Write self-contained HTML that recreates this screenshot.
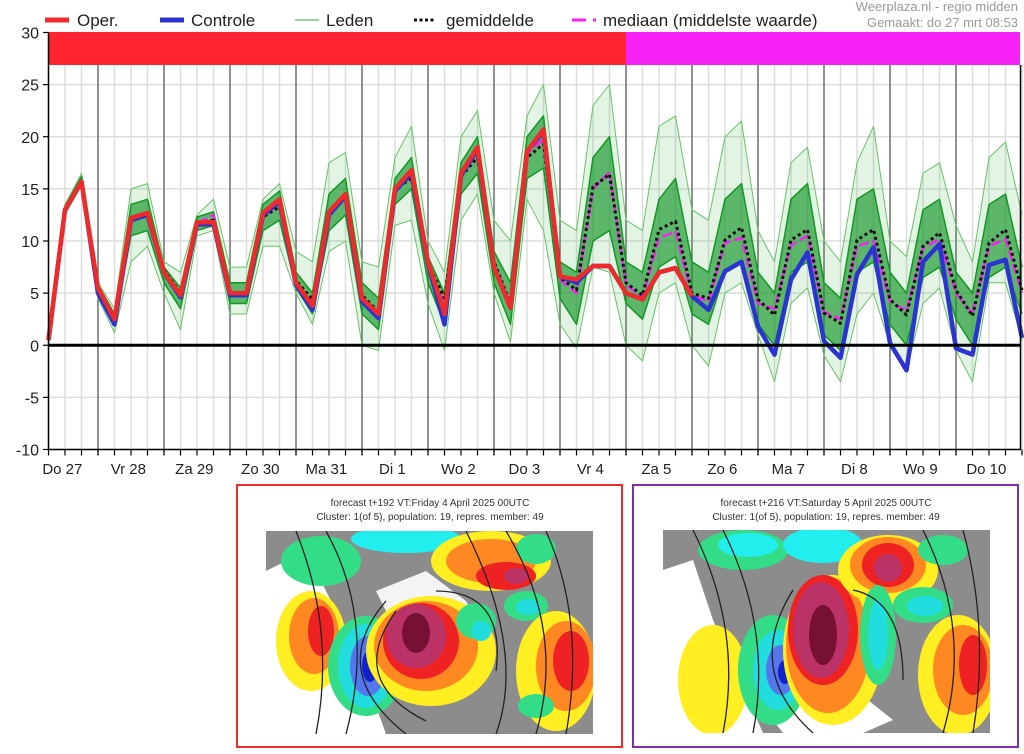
<!DOCTYPE html>
<html><head><meta charset="utf-8"><style>
html,body{margin:0;padding:0;background:#fff;}
svg{display:block;font-family:"Liberation Sans",Arial,sans-serif;}
</style></head><body>
<svg id="chart" width="1024" height="754" viewBox="0 0 1024 754" xmlns="http://www.w3.org/2000/svg">
<g id="grid"></g>
<g>
<rect x="48" y="32" width="578" height="33" fill="#ff2430"/>
<rect x="626" y="32" width="394" height="33" fill="#f622f6"/>
</g>
<g id="series"></g>
<g id="axes"></g>
<g font-size="17" fill="#222">
<g><line x1="45" y1="20" x2="69" y2="20" stroke="#ee2a2a" stroke-width="5"/><text x="77" y="26">Oper.</text></g>
<g><line x1="160" y1="20" x2="184" y2="20" stroke="#2b34d0" stroke-width="5"/><text x="191" y="26">Controle</text></g>
<g><line x1="295" y1="20" x2="319" y2="20" stroke="#33aa33" stroke-width="1"/><text x="326" y="26">Leden</text></g>
<g><line x1="414" y1="20" x2="434" y2="20" stroke="#111" stroke-width="3" stroke-dasharray="3,2.5"/><text x="446" y="26">gemiddelde</text></g>
<g><line x1="572" y1="20" x2="586" y2="20" stroke="#f622f6" stroke-width="3"/><line x1="593" y1="20" x2="596" y2="20" stroke="#f622f6" stroke-width="3"/><text x="603" y="26">mediaan (middelste waarde)</text></g>
</g>
<text x="1018" y="11" text-anchor="end" font-size="13" fill="#9a9a9a">Weerplaza.nl - regio midden</text>
<text x="1018" y="27" text-anchor="end" font-size="13" fill="#9a9a9a">Gemaakt: do 27 mrt 08:53</text>

<g>
<rect x="237" y="485" width="385" height="262" fill="#fff" stroke="#ee2a2a" stroke-width="2"/>
<text x="430" y="506" text-anchor="middle" font-size="10" fill="#333">forecast t+192 VT:Friday 4 April 2025 00UTC</text>
<text x="430" y="520" text-anchor="middle" font-size="10" fill="#333">Cluster: 1(of 5), population: 19, repres. member: 49</text>
<svg x="266" y="531" width="327" height="203" viewBox="0 0 327 203">
<rect width="327" height="203" fill="#8c8c8c"/>
<path d="M0 40 L40 20 L60 60 L90 120 L120 203 L0 203Z" fill="#fff"/>
<path d="M110 60 L160 40 L200 70 L230 120 L200 160 L150 140 Z" fill="#f4f4f4"/>
<ellipse cx="55" cy="30" rx="40" ry="25" fill="#33dd88"/>
<ellipse cx="140" cy="8" rx="55" ry="14" fill="#22eeee"/>
<ellipse cx="45" cy="110" rx="35" ry="50" fill="#ffee22"/>
<ellipse cx="48" cy="105" rx="25" ry="38" fill="#ff8822"/>
<ellipse cx="55" cy="100" rx="13" ry="25" fill="#ee2222"/>
<ellipse cx="100" cy="135" rx="38" ry="50" fill="#33dd88"/>
<ellipse cx="100" cy="135" rx="28" ry="42" fill="#22dddd"/>
<ellipse cx="102" cy="135" rx="18" ry="30" fill="#5577ee"/>
<ellipse cx="104" cy="135" rx="8" ry="16" fill="#1122cc"/>
<ellipse cx="165" cy="120" rx="65" ry="55" fill="#ffee22"/>
<ellipse cx="160" cy="115" rx="52" ry="45" fill="#ff8822"/>
<ellipse cx="155" cy="110" rx="38" ry="38" fill="#ee2222"/>
<ellipse cx="150" cy="105" rx="30" ry="32" fill="#bb3366"/>
<ellipse cx="150" cy="102" rx="14" ry="20" fill="#771133"/>
<ellipse cx="225" cy="30" rx="60" ry="30" fill="#ffee22"/>
<ellipse cx="225" cy="30" rx="45" ry="22" fill="#ff8822"/>
<ellipse cx="240" cy="45" rx="30" ry="14" fill="#ee2222"/>
<ellipse cx="250" cy="45" rx="12" ry="8" fill="#bb3366"/>
<ellipse cx="270" cy="18" rx="20" ry="15" fill="#33dd88"/>
<ellipse cx="260" cy="75" rx="22" ry="15" fill="#33dd88"/>
<ellipse cx="262" cy="76" rx="12" ry="8" fill="#22dddd"/>
<ellipse cx="210" cy="90" rx="20" ry="18" fill="#33dd88"/>
<ellipse cx="215" cy="100" rx="10" ry="10" fill="#22dddd"/>
<ellipse cx="290" cy="140" rx="40" ry="60" fill="#ffee22"/>
<ellipse cx="300" cy="135" rx="30" ry="45" fill="#ff8822"/>
<ellipse cx="305" cy="130" rx="18" ry="30" fill="#ee2222"/>
<ellipse cx="270" cy="175" rx="18" ry="12" fill="#33dd88"/>
<g fill="none" stroke="#222" stroke-width="1.3">
<path d="M30 0 Q70 100 50 203"/><path d="M60 0 Q110 90 80 203"/><path d="M120 70 Q60 140 140 203"/><path d="M130 80 Q80 150 160 190"/><path d="M200 0 Q260 120 230 203"/><path d="M240 0 Q300 100 270 203"/><path d="M280 0 Q320 90 300 203"/><path d="M170 60 Q240 60 230 140"/>
</g>
</svg>
</g>

<g>
<rect x="633" y="485" width="385" height="262" fill="#fff" stroke="#7b2fb0" stroke-width="2"/>
<text x="826" y="506" text-anchor="middle" font-size="10" fill="#333">forecast t+216 VT:Saturday 5 April 2025 00UTC</text>
<text x="826" y="520" text-anchor="middle" font-size="10" fill="#333">Cluster: 1(of 5), population: 19, repres. member: 49</text>
<svg x="663" y="530" width="327" height="203" viewBox="0 0 327 203">
<rect width="327" height="203" fill="#8c8c8c"/>
<path d="M0 40 L30 30 L50 90 L100 203 L0 203Z" fill="#fff"/>
<path d="M110 190 L180 150 L230 190 L200 203 L120 203Z" fill="#fff"/>
<ellipse cx="50" cy="150" rx="35" ry="55" fill="#ffee22"/>
<ellipse cx="80" cy="20" rx="45" ry="20" fill="#33dd88"/>
<ellipse cx="85" cy="15" rx="30" ry="12" fill="#22eeee"/>
<ellipse cx="160" cy="15" rx="40" ry="18" fill="#22eeee"/>
<ellipse cx="110" cy="140" rx="35" ry="55" fill="#33dd88"/>
<ellipse cx="115" cy="140" rx="25" ry="40" fill="#22dddd"/>
<ellipse cx="118" cy="140" rx="15" ry="25" fill="#5577ee"/>
<ellipse cx="122" cy="142" rx="7" ry="12" fill="#1122cc"/>
<ellipse cx="170" cy="120" rx="50" ry="75" fill="#ffee22"/>
<ellipse cx="165" cy="115" rx="42" ry="68" fill="#ff8822"/>
<ellipse cx="160" cy="100" rx="35" ry="55" fill="#ee2222"/>
<ellipse cx="158" cy="100" rx="28" ry="48" fill="#bb3366"/>
<ellipse cx="160" cy="105" rx="14" ry="30" fill="#771133"/>
<ellipse cx="225" cy="40" rx="50" ry="35" fill="#ffee22"/>
<ellipse cx="225" cy="35" rx="38" ry="28" fill="#ff8822"/>
<ellipse cx="225" cy="35" rx="26" ry="22" fill="#ee2222"/>
<ellipse cx="225" cy="38" rx="14" ry="14" fill="#bb3366"/>
<ellipse cx="215" cy="105" rx="18" ry="50" fill="#33dd88"/>
<ellipse cx="215" cy="105" rx="10" ry="35" fill="#22dddd"/>
<ellipse cx="260" cy="75" rx="30" ry="18" fill="#33dd88"/>
<ellipse cx="262" cy="76" rx="18" ry="10" fill="#22dddd"/>
<ellipse cx="280" cy="20" rx="25" ry="15" fill="#33dd88"/>
<ellipse cx="295" cy="145" rx="40" ry="60" fill="#ffee22"/>
<ellipse cx="300" cy="140" rx="30" ry="45" fill="#ff8822"/>
<ellipse cx="310" cy="135" rx="14" ry="30" fill="#ee2222"/>
<g fill="none" stroke="#222" stroke-width="1.3">
<path d="M30 0 Q80 100 60 203"/><path d="M60 0 Q110 100 90 203"/><path d="M130 60 Q80 140 150 203"/><path d="M260 0 Q310 100 280 203"/><path d="M300 0 Q327 100 310 203"/><path d="M190 60 Q240 70 240 150"/>
</g>
</svg>
</g>
</svg>
<script>
const timeSteps = 60;
const dayLabels = ["Do 27","Vr 28","Za 29","Zo 30","Ma 31","Di 1","Wo 2","Do 3","Vr 4","Za 5","Zo 6","Ma 7","Di 8","Wo 9","Do 10"];
const yTicks = [30,25,20,15,10,5,0,-5,-10];
const operValues = [0.5,13,15.7,5.5,2.5,12.2,12.7,7,4.8,11.8,11.8,5,5,12.7,14,6,3.8,12.8,14.5,4.5,3,15,16.8,8,3,16.5,19,7.5,3.6,18.6,20.7,6.6,6.3,7.6,7.6,5,4.4,7,7.4,4.7];
const controlValues = [0.5,13,15.7,5,2,12,12.5,7,4.6,11.6,11.6,4.8,4.8,12.5,13.8,5.8,3.4,12.5,14.3,4.2,2.6,14.8,16.5,7.8,2,16.3,18.8,7.5,3.6,18.6,20.5,6.6,6,7.6,7.6,5,4.4,7,7.4,4.7,3.4,7.1,8,1.8,-0.9,6.3,8.9,0.4,-1.2,6.8,9.4,0.2,-2.4,8,9.7,-0.3,-0.9,7.7,8.2,0.7];
const meanValues = [0.6,13,15.6,5.6,2.6,12.2,12.6,7.2,5,11.7,12,5,5,12.3,13.3,6.2,4.4,12.5,14.2,4.8,3.2,15,16,7.8,4.5,16.2,18,8,4,18,19.3,6.5,5.3,15.2,16.4,6,4.8,11.1,11.9,5,4.5,10.1,11.3,4.4,2.9,10.1,11.1,3.1,2.1,10.1,11.1,4.4,2.9,9.5,10.8,5.3,2.8,9.8,11.1,5.3];
const medianValues = [0.6,13,15.6,5.6,2.6,12.2,12.8,7,4.8,11.7,12.5,5,5,12.3,13.6,6,4,12.8,14.2,4.6,3,15,16.2,7.6,4,16.4,18.4,7.8,3.8,18.4,19.8,6.3,5,15,16.6,5.8,4.6,10.3,10.9,4.8,4.2,9.8,10.3,4,3.5,9.6,10.5,3.2,2.5,9.5,10,4.2,3.3,9.3,10.2,5,3,9.5,10.2,5];
const memberMax = [1,13.5,16.5,6,3.5,15,15.5,8,7,12.5,14,7.5,7.5,14,15.5,9,8,17.5,18.5,8,7.5,18,21,10,7,20,22.5,12,10,22,25,12,11,23,25,12,11,21,22,13,12,20,21.5,11,8,17.5,19,10,8,17.5,21,10,8.5,16.5,17.5,11.5,8,18,19.5,12.5];
const memberMin = [0,12.5,15.3,4.5,1.2,8,9.5,5,1.5,10.5,11,3,3,9.5,9.5,5,2,9,10,0,-0.5,11.5,12,4,-0.5,12,14.5,5,0.3,14,11,2,-0.3,7.5,7,0,-1.5,5,6,0,-2,5,6,1,-3.5,4,5.5,-1,-3.5,3,5,0,-2.5,4,5.5,-0.5,-3.5,6,6,0.5];
const coreHi = [1,13.3,16.2,5.8,3,13.5,14,7.5,5.5,12.3,12.8,6,6,13.5,14.8,7,5,14.5,16,6,4.5,16,18,8.5,5,17.5,20,9,6,20,22,8,7,18,20,8,7,14,16,8,7,14,15.5,7,5,14,15.5,6,4.5,14,15,7,5,13,14,7,5,13.5,14.5,7.5];
const coreLo = [0.5,12.7,15.5,4.8,2,10.5,11,6,3.5,11,11.5,4,4,11,12,5.5,3,11,12.5,3,1.5,13.5,15,6,2,14.5,16.5,6,2,16,17,4.5,2,10,11,4,2.5,7.5,8.5,3,2,7,8,2,0,7,8,1,-0.5,7,8,2,0,6.5,7.5,2.5,0,6.5,7.5,3];

const NS='http://www.w3.org/2000/svg';
const X0=48.5, STEP=16.5, YTOP=32.5, YBOT=449.5, VMAX=30, VMIN=-10;
function xScale(i){return X0+i*STEP;}
function yScale(v){return YTOP+(VMAX-v)/(VMAX-VMIN)*(YBOT-YTOP);}
function mk(tag,attrs,parent){const e=document.createElementNS(NS,tag);for(const k in attrs)e.setAttribute(k,attrs[k]);parent.appendChild(e);return e;}
const grid=document.getElementById('grid'), series=document.getElementById('series'), axes=document.getElementById('axes');

yTicks.forEach(v=>{
  const l=mk('line',{x1:48,x2:1020,y1:yScale(v),y2:yScale(v),stroke:'#dddddd','stroke-width':1.5},grid);
  
  
});
for(let i=0;i<timeSteps;i++){
  const l=mk('line',{x1:xScale(i),x2:xScale(i),y1:65,y2:YBOT,stroke:'#dddddd','stroke-width':1.5},grid);
  
  
}
dayLabels.forEach((d,k)=>{
  const dayStart=xScale(3+4*k);
  if(k<dayLabels.length-1){
    const l=mk('line',{x1:dayStart,x2:dayStart,y1:65,y2:YBOT+6,stroke:'#555','stroke-width':1.2},grid);
    
    
  }
  const t=mk('text',{x:xScale(4*k+0.9)-1,y:474,'text-anchor':'middle','font-size':15,fill:'#222'},axes);
  t.textContent=d;
  
  
});

function band(hi,lo,fill,name){
  let d='M'+hi.map((v,i)=>xScale(i)+','+yScale(v)).join(' L');
  for(let i=lo.length-1;i>=0;i--) d+=' L'+xScale(i)+','+yScale(lo[i]);
  const p=mk('path',{d:d+'Z',fill:fill},series);
  
  
}
function line(vals,attrs,name){
  const d='M'+vals.map((v,i)=>xScale(i)+','+yScale(v)).join(' L');
  const p=mk('path',Object.assign({d:d,fill:'none','stroke-linejoin':'round'},attrs),series);
  
  
}
band(memberMax,memberMin,'rgba(60,180,70,0.14)','members-envelope');
band(coreHi,coreLo,'rgba(20,150,40,0.65)','members-core');
line(memberMax,{stroke:'#66c466','stroke-width':1},'member-max-line');
line(memberMin,{stroke:'#66c466','stroke-width':1},'member-min-line');
line(coreHi,{stroke:'#119922','stroke-width':1.5},'member-upper-line');
line(coreLo,{stroke:'#119922','stroke-width':1.5},'member-lower-line');
line(medianValues,{stroke:'#f622f6','stroke-width':2.5,'stroke-dasharray':'10,4'},'median-line');
line(meanValues,{stroke:'#111','stroke-width':3,'stroke-dasharray':'3,3'},'mean-line');
line(controlValues,{stroke:'#2b34d0','stroke-width':4.5},'control-line');
line(operValues,{stroke:'#ee2a2a','stroke-width':4.5},'oper-line');

let z=mk('line',{x1:48,x2:1020,y1:yScale(0),y2:yScale(0),stroke:'#000','stroke-width':3},axes);


let ya=mk('line',{x1:48.5,x2:48.5,y1:YTOP,y2:YBOT,stroke:'#000','stroke-width':1.5},axes);


let ya2=mk('line',{x1:1020.5,x2:1020.5,y1:65,y2:YBOT,stroke:'#000','stroke-width':1.5},axes);


let xa=mk('line',{x1:48,x2:1021,y1:YBOT,y2:YBOT,stroke:'#000','stroke-width':1.5},axes);


for(let i=0;i<timeSteps;i++){
  const t=mk('line',{x1:xScale(i),x2:xScale(i),y1:YBOT,y2:YBOT+6,stroke:'#000','stroke-width':1.2},axes);
  
  
}
yTicks.forEach(v=>{
  const t=mk('line',{x1:43,x2:48,y1:yScale(v),y2:yScale(v),stroke:'#000','stroke-width':1.2},axes);
  
  
  const lb=mk('text',{x:39,y:yScale(v)+6,'text-anchor':'end','font-size':16,fill:'#222'},axes);
  lb.textContent=v;
  
  
});
</script>
</body></html>
